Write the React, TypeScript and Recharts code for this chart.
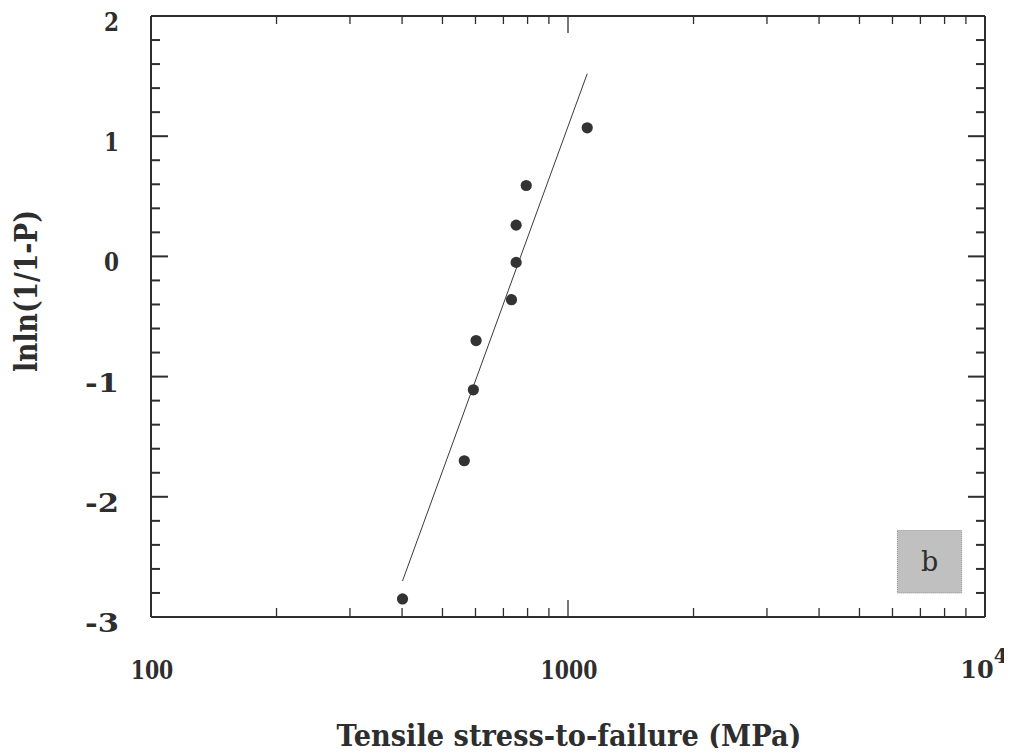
import React from 'react';
import { ScatterChart, Scatter, XAxis, YAxis, ReferenceArea } from 'recharts';

const stressMPa = [401, 564, 593, 602, 732, 751, 751, 794, 1112];
const lnlnValues = [-2.85, -1.70, -1.11, -0.70, -0.36, -0.05, 0.26, 0.59, 1.07];

// Fitted Weibull line end points
const fitStress = [401, 1112];
const fitLnln = [-2.70, 1.52];

// Axis ticks
const xMajorTicks = [100, 1000, 10000];
const xMinorTicks = [200, 300, 400, 500, 600, 700, 800, 900, 2000, 3000, 4000, 5000, 6000, 7000, 8000, 9000];
const yMajorTicks = [-3, -2, -1, 0, 1, 2];
const yMinorTicks = [-2.8, -2.6, -2.4, -2.2, -1.8, -1.6, -1.4, -1.2, -0.8, -0.6, -0.4, -0.2, 0.2, 0.4, 0.6, 0.8, 1.2, 1.4, 1.6, 1.8];
const yTickLabels = ['-3', '-2', '-1', '0', '1', '2'];

// Panel label box (data coords)
const panelLabel = 'b';
const panelBoxStress = [6166, 8790];
const panelBoxLnln = [-2.80, -2.28];

const xTitle = 'Tensile stress-to-failure (MPa)';
const yTitle = 'lnln(1/1-P)';

const points = stressMPa.map((s, i) => ({ x: s, y: lnlnValues[i] }));
const fitLine = fitStress.map((s, i) => ({ x: s, y: fitLnln[i] }));

const xTicks = [...xMajorTicks, ...xMinorTicks].sort((a, b) => a - b);
const yTicks = [...yMajorTicks, ...yMinorTicks].sort((a, b) => a - b);

const INK = '#2e2e2e';
const FONT = '"DejaVu Serif", serif';

const isXMajor = (v: number) => xMajorTicks.includes(v);
const isYMajor = (v: number) => yMajorTicks.some((m) => Math.abs(m - v) < 1e-6);

const BottomTick = (props: any) => {
  const { x, y, payload } = props;
  const v = payload.value;
  const major = isXMajor(v);
  const len = major ? 17 : 9;
  let label: React.ReactNode = null;
  if (major) {
    if (v === 10000) {
      label = (
        <text x={x - 1} y={y + 61} textAnchor="middle" fontFamily={FONT} fontWeight="bold" fontSize={24} fill={INK}>
          10<tspan dy={-15} fontSize={20}>4</tspan>
        </text>
      );
    } else {
      const s = String(v);
      label = (
        <text x={x + 1} y={y + 62} textAnchor="middle" fontFamily={FONT} fontWeight="bold" fontSize={26} fill={INK} textLength={s.length * 14.2} lengthAdjust="spacingAndGlyphs">{s}</text>
      );
    }
  }
  return (
    <g>
      <line x1={x} x2={x} y1={y} y2={y - len} stroke={INK} strokeWidth={1.3} />
      {label}
    </g>
  );
};

const TopTick = (props: any) => {
  const { x, y, payload } = props;
  const major = isXMajor(payload.value);
  const len = major ? 17 : 8;
  return <line x1={x} x2={x} y1={y} y2={y + len} stroke={INK} strokeWidth={1.3} />;
};

const LeftTick = (props: any) => {
  const { x, y, payload } = props;
  const v = payload.value;
  const major = isYMajor(v);
  const len = major ? 17 : 9;
  let label: React.ReactNode = null;
  if (major) {
    const idx = yMajorTicks.findIndex((m) => Math.abs(m - v) < 1e-6);
    const s = yTickLabels[idx];
    label = (
      <text x={x - 32} y={y + 15} textAnchor="end" fontFamily={FONT} fontWeight="bold" fontSize={26} fill={INK} textLength={s.length > 1 ? 34 : 15} lengthAdjust="spacingAndGlyphs">{s}</text>
    );
  }
  return (
    <g>
      <line x1={x} x2={x + len} y1={y} y2={y} stroke={INK} strokeWidth={2} />
      {label}
    </g>
  );
};

const RightTick = (props: any) => {
  const { x, y, payload } = props;
  const major = isYMajor(payload.value);
  const len = major ? 17 : 9;
  return <line x1={x} x2={x - len} y1={y} y2={y} stroke={INK} strokeWidth={2} />;
};

const Dot = (props: any) => {
  const { cx, cy } = props;
  return <circle cx={cx} cy={cy} r={5.6} fill="#333" />;
};

const NoDot = () => <g />;

export default function App() {
  return (
    <div style={{ margin: -8, width: 1012, height: 756, background: '#fff' }}>
      <ScatterChart width={1012} height={756} margin={{ top: 0, right: 0, bottom: 79, left: 41 }}>
        <XAxis
          xAxisId="bottom"
          orientation="bottom"
          dataKey="x"
          type="number"
          scale="log"
          domain={[100, 10000]}
          ticks={xTicks}
          interval={0}
          allowDataOverflow
          height={60}
          tickSize={0}
          tickMargin={0}
          tick={<BottomTick />}
          axisLine={{ stroke: INK, strokeWidth: 2 }}
          label={{
            content: () => (
              <text x={569} y={746} textAnchor="middle" fontFamily={FONT} fontWeight="bold" fontSize={30} fill={INK} textLength={465} lengthAdjust="spacingAndGlyphs">{xTitle}</text>
            ),
          }}
        />
        <XAxis
          xAxisId="top"
          orientation="top"
          dataKey="x"
          type="number"
          scale="log"
          domain={[100, 10000]}
          ticks={xTicks}
          interval={0}
          allowDataOverflow
          height={16}
          tickSize={0}
          tickMargin={0}
          tick={<TopTick />}
          axisLine={{ stroke: INK, strokeWidth: 2 }}
        />
        <YAxis
          yAxisId="left"
          orientation="left"
          dataKey="y"
          type="number"
          domain={[-3, 2]}
          ticks={yTicks}
          interval={0}
          allowDataOverflow
          width={110}
          tickSize={0}
          tickMargin={0}
          tick={<LeftTick />}
          axisLine={{ stroke: INK, strokeWidth: 2 }}
          label={{
            content: () => (
              <text x={0} y={0} transform="translate(37 291) rotate(-90)" textAnchor="middle" fontFamily={FONT} fontWeight="bold" fontSize={31} fill={INK} textLength={162} lengthAdjust="spacingAndGlyphs">{yTitle}</text>
            ),
          }}
        />
        <YAxis
          yAxisId="right"
          orientation="right"
          dataKey="y"
          type="number"
          domain={[-3, 2]}
          ticks={yTicks}
          interval={0}
          allowDataOverflow
          width={27}
          tickSize={0}
          tickMargin={0}
          tick={<RightTick />}
          axisLine={{ stroke: INK, strokeWidth: 2 }}
        />
        <ReferenceArea
          xAxisId="bottom"
          yAxisId="left"
          x1={panelBoxStress[0]}
          x2={panelBoxStress[1]}
          y1={panelBoxLnln[0]}
          y2={panelBoxLnln[1]}
          fill="#c0c0c0"
          fillOpacity={1}
          stroke="#8a8a8a"
          strokeDasharray="1 1"
          label={{ value: panelLabel, position: 'center', fontFamily: FONT, fontSize: 27, fill: INK }}
        />
        <Scatter
          xAxisId="bottom"
          yAxisId="left"
          data={fitLine}
          line={{ stroke: '#3a3a3a', strokeWidth: 1 }}
          shape={<NoDot />}
          isAnimationActive={false}
          legendType="none"
        />
        <Scatter
          xAxisId="bottom"
          yAxisId="left"
          data={points}
          shape={<Dot />}
          isAnimationActive={false}
          legendType="none"
        />
      </ScatterChart>
    </div>
  );
}
